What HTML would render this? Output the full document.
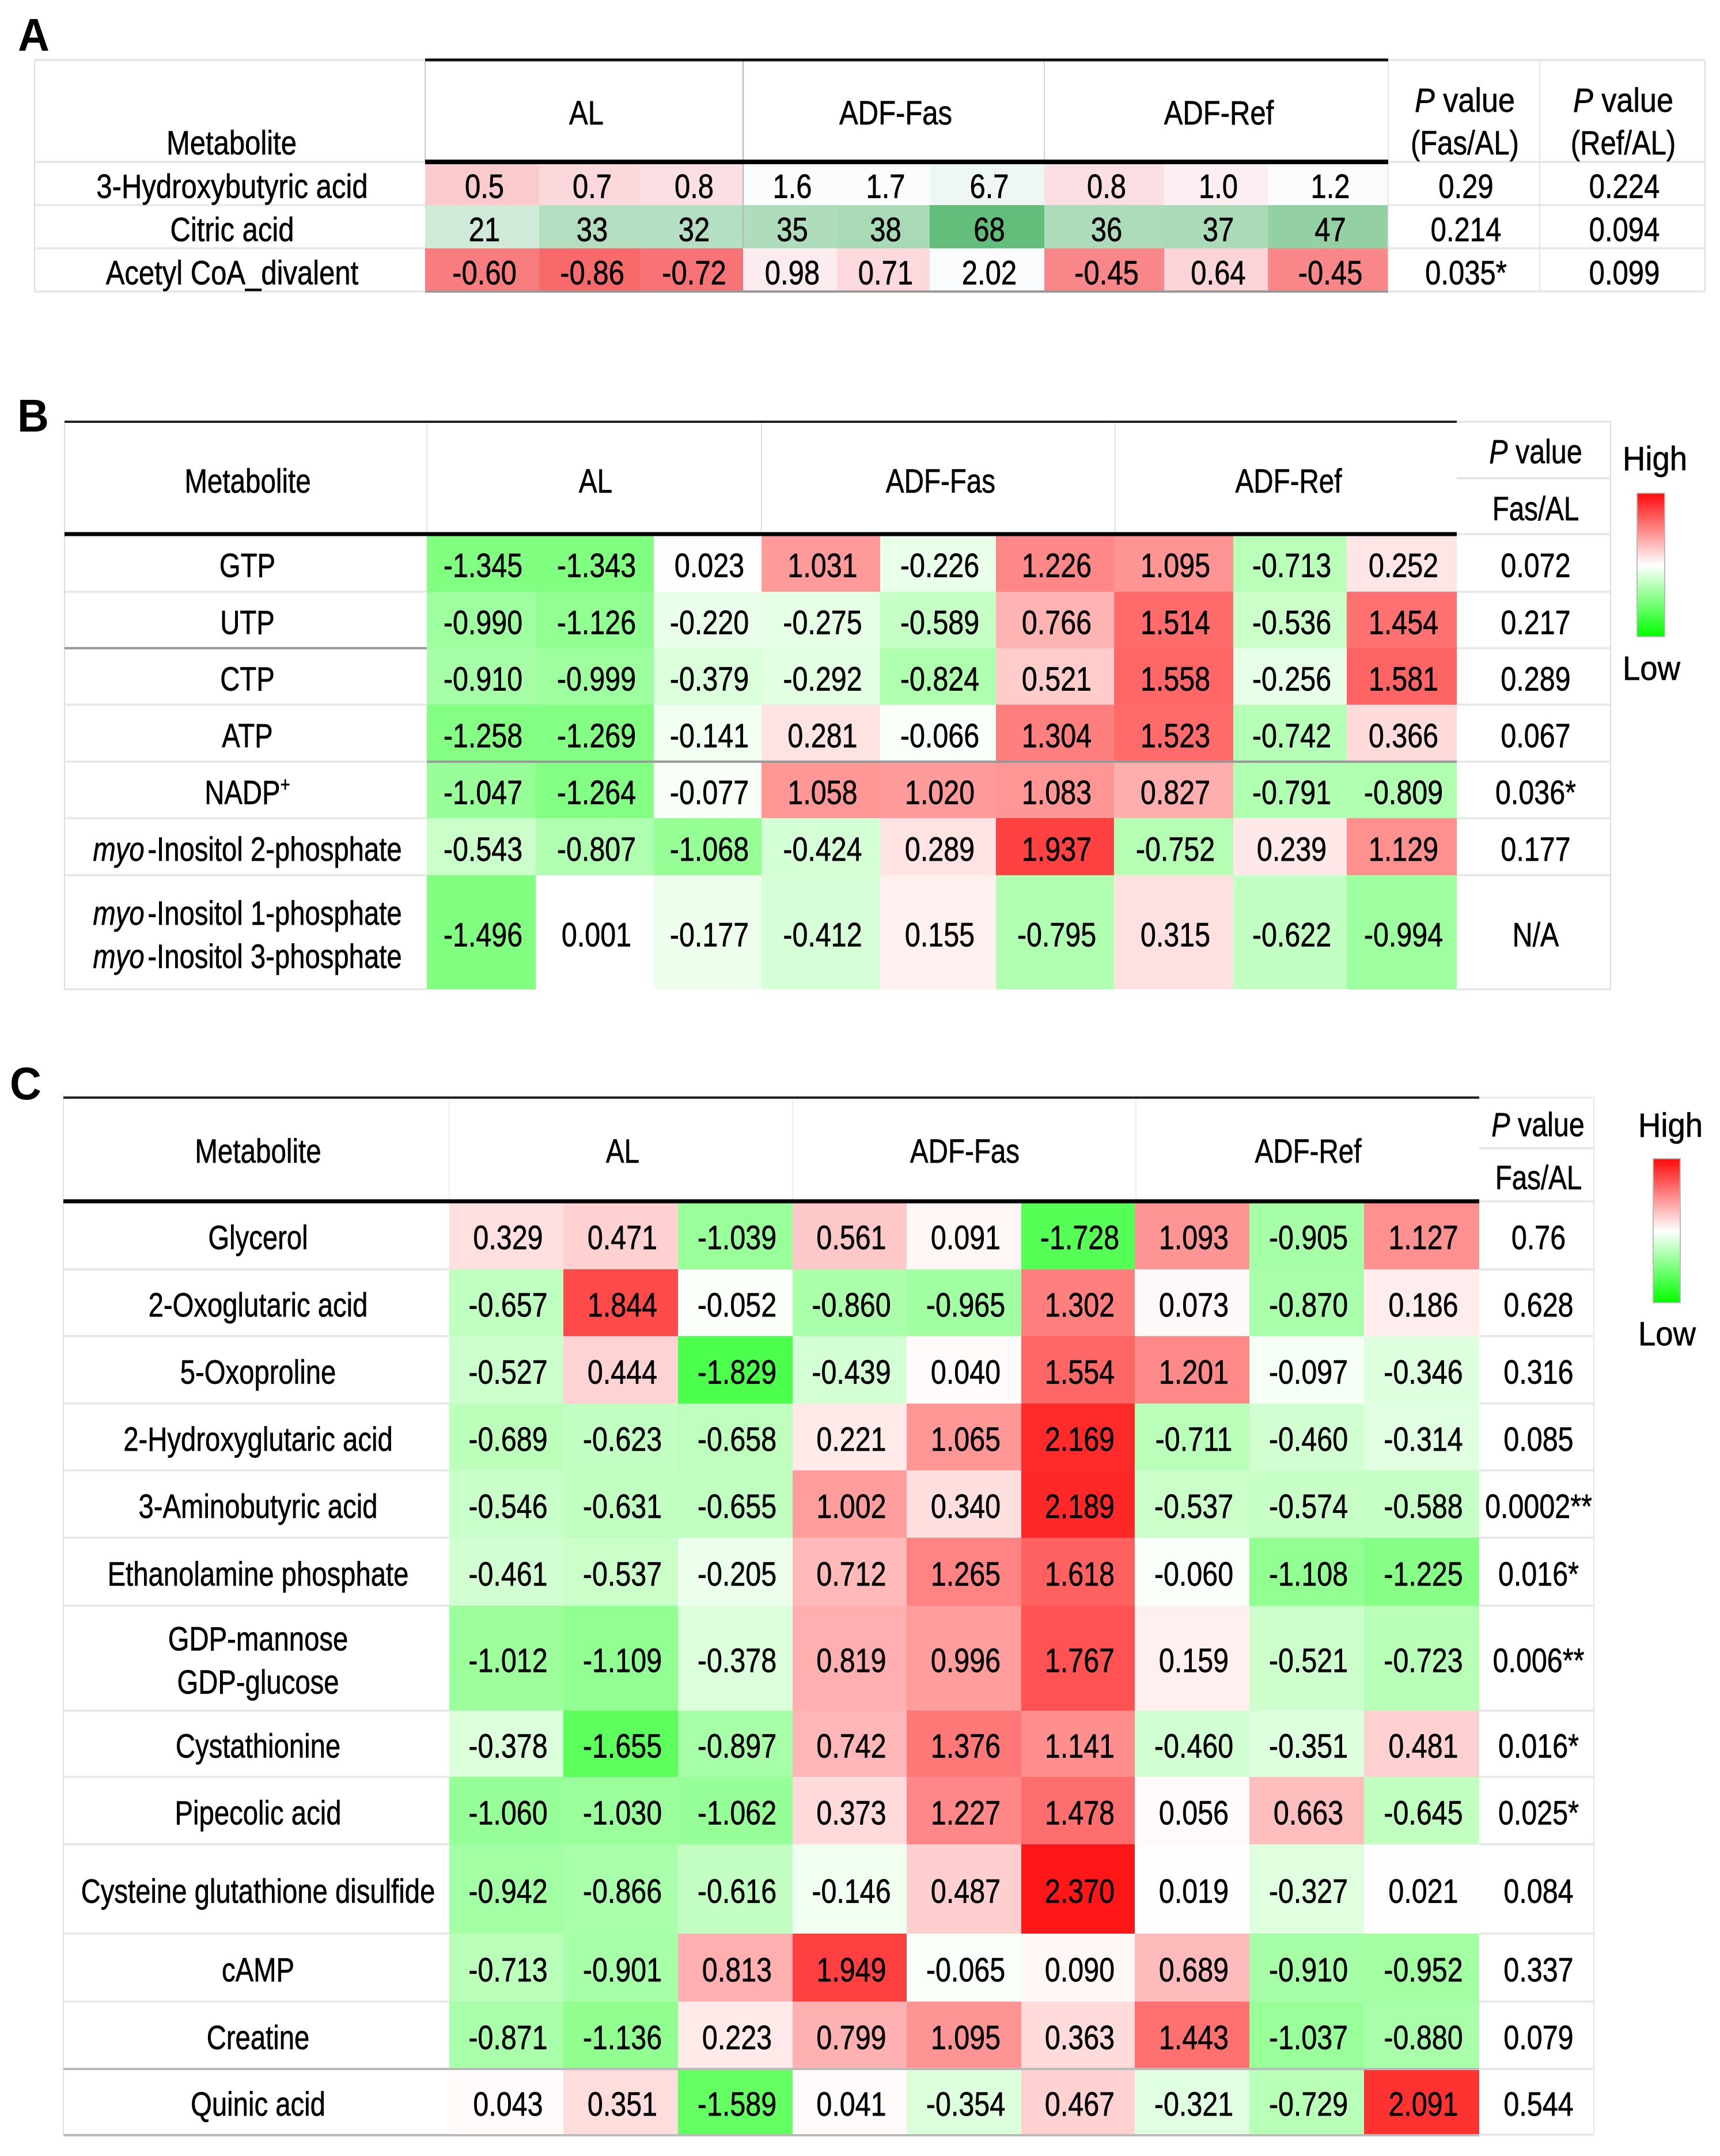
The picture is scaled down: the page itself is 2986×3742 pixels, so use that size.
<!DOCTYPE html>
<html lang="en">
<head>
<meta charset="utf-8">
<title>Metabolite heatmap tables</title>
<style>
html,body{margin:0;padding:0;background:#fff;}
svg{display:block;}
text{font-family:"Liberation Sans",Arial,sans-serif;font-size:58px;fill:#000;stroke:#000;stroke-width:0.7px;}
.pl{font-weight:bold;font-size:80px;stroke:none;}
</style>
</head>
<body>
<svg id="chart" xmlns="http://www.w3.org/2000/svg" width="2986" height="3742" viewBox="0 0 2986 3742">
  <defs>
    <linearGradient id="legend-grad" x1="0" y1="0" x2="0" y2="1">
      <stop offset="0" stop-color="#ff0a0a"/>
      <stop offset="0.5" stop-color="#ffffff"/>
      <stop offset="1" stop-color="#00ff00"/>
    </linearGradient>
  </defs>
  <rect x="0" y="0" width="2986" height="3742" fill="#ffffff"/>
  <g id="panels"></g>

  <text class="pl" transform="translate(31,88) scale(0.95,1)">A</text>
  <text class="pl" transform="translate(30,749) scale(0.95,1)">B</text>
  <text class="pl" transform="translate(17,1908) scale(0.95,1)">C</text>

  <g text-anchor="middle">
    <text transform="translate(402,268) scale(0.845,1)">Metabolite</text>
    <text transform="translate(1018,216) scale(0.845,1)">AL</text>
    <text transform="translate(1555,216) scale(0.845,1)">ADF-Fas</text>
    <text transform="translate(2116,216) scale(0.845,1)">ADF-Ref</text>
    <text transform="translate(2543,194) scale(0.9,1)"><tspan font-style="italic">P</tspan> value</text>
    <text transform="translate(2543,268) scale(0.845,1)">(Fas/AL)</text>
    <text transform="translate(2818,194) scale(0.9,1)"><tspan font-style="italic">P</tspan> value</text>
    <text transform="translate(2818,268) scale(0.845,1)">(Ref/AL)</text>
  </g>

  <g text-anchor="middle">
    <text transform="translate(430,855) scale(0.82,1)">Metabolite</text>
    <text transform="translate(1034,855) scale(0.82,1)">AL</text>
    <text transform="translate(1633,855) scale(0.82,1)">ADF-Fas</text>
    <text transform="translate(2237,855) scale(0.82,1)">ADF-Ref</text>
    <text transform="translate(2666,804) scale(0.835,1)"><tspan font-style="italic">P</tspan> value</text>
    <text transform="translate(2666,903) scale(0.82,1)">Fas/AL</text>
  </g>

  <g text-anchor="middle">
    <text transform="translate(448,2018) scale(0.82,1)">Metabolite</text>
    <text transform="translate(1081,2018) scale(0.82,1)">AL</text>
    <text transform="translate(1675,2018) scale(0.82,1)">ADF-Fas</text>
    <text transform="translate(2271,2018) scale(0.82,1)">ADF-Ref</text>
    <text transform="translate(2670,1972) scale(0.835,1)"><tspan font-style="italic">P</tspan> value</text>
    <text transform="translate(2671,2064) scale(0.82,1)">Fas/AL</text>
  </g>

  <g>
    <text transform="translate(2817,816) scale(0.94,1)">High</text>
    <rect x="2842" y="856" width="48" height="249" fill="url(#legend-grad)" stroke="#bbbbbb" stroke-width="2"/>
    <text transform="translate(2817,1180) scale(0.94,1)">Low</text>
  </g>
  <g>
    <text transform="translate(2844,1973) scale(0.94,1)">High</text>
    <rect x="2870" y="2011" width="47" height="250" fill="url(#legend-grad)" stroke="#bbbbbb" stroke-width="2"/>
    <text transform="translate(2844,2335) scale(0.94,1)">Low</text>
  </g>
</svg>

<script>
/* ---------- Panel A data ---------- */
const aMetabolites = ["3-Hydroxybutyric acid", "Citric acid", "Acetyl CoA_divalent"];
const aDecimals = [1, 0, 2];
const aHydroxybutyric = [0.5, 0.7, 0.8, 1.6, 1.7, 6.7, 0.8, 1.0, 1.2];
const aCitric = [21, 33, 32, 35, 38, 68, 36, 37, 47];
const aAcetylCoA = [-0.60, -0.86, -0.72, 0.98, 0.71, 2.02, -0.45, 0.64, -0.45];
const aPFas = ["0.29", "0.214", "0.035*"];
const aPRef = ["0.224", "0.094", "0.099"];

/* ---------- Panel B data ---------- */
const bMetabolites = ["GTP", "UTP", "CTP", "ATP", "NADP+", "myo-Inositol 2-phosphate", "myo-Inositol 1-phosphate\nmyo-Inositol 3-phosphate"];
const bGTP = [-1.345, -1.343, 0.023, 1.031, -0.226, 1.226, 1.095, -0.713, 0.252];
const bUTP = [-0.990, -1.126, -0.220, -0.275, -0.589, 0.766, 1.514, -0.536, 1.454];
const bCTP = [-0.910, -0.999, -0.379, -0.292, -0.824, 0.521, 1.558, -0.256, 1.581];
const bATP = [-1.258, -1.269, -0.141, 0.281, -0.066, 1.304, 1.523, -0.742, 0.366];
const bNADP = [-1.047, -1.264, -0.077, 1.058, 1.020, 1.083, 0.827, -0.791, -0.809];
const bInositol2 = [-0.543, -0.807, -1.068, -0.424, 0.289, 1.937, -0.752, 0.239, 1.129];
const bInositol13 = [-1.496, 0.001, -0.177, -0.412, 0.155, -0.795, 0.315, -0.622, -0.994];
const bPFas = ["0.072", "0.217", "0.289", "0.067", "0.036*", "0.177", "N/A"];

/* ---------- Panel C data ---------- */
const cMetabolites = ["Glycerol", "2-Oxoglutaric acid", "5-Oxoproline", "2-Hydroxyglutaric acid", "3-Aminobutyric acid", "Ethanolamine phosphate", "GDP-mannose\nGDP-glucose", "Cystathionine", "Pipecolic acid", "Cysteine glutathione disulfide", "cAMP", "Creatine", "Quinic acid"];
const cGlycerol = [0.329, 0.471, -1.039, 0.561, 0.091, -1.728, 1.093, -0.905, 1.127];
const cOxoglutaric = [-0.657, 1.844, -0.052, -0.860, -0.965, 1.302, 0.073, -0.870, 0.186];
const cOxoproline = [-0.527, 0.444, -1.829, -0.439, 0.040, 1.554, 1.201, -0.097, -0.346];
const cHydroxyglutaric = [-0.689, -0.623, -0.658, 0.221, 1.065, 2.169, -0.711, -0.460, -0.314];
const cAminobutyric = [-0.546, -0.631, -0.655, 1.002, 0.340, 2.189, -0.537, -0.574, -0.588];
const cEthanolamine = [-0.461, -0.537, -0.205, 0.712, 1.265, 1.618, -0.060, -1.108, -1.225];
const cGDP = [-1.012, -1.109, -0.378, 0.819, 0.996, 1.767, 0.159, -0.521, -0.723];
const cCystathionine = [-0.378, -1.655, -0.897, 0.742, 1.376, 1.141, -0.460, -0.351, 0.481];
const cPipecolic = [-1.060, -1.030, -1.062, 0.373, 1.227, 1.478, 0.056, 0.663, -0.645];
const cCysteineGSH = [-0.942, -0.866, -0.616, -0.146, 0.487, 2.370, 0.019, -0.327, 0.021];
const cCAMP = [-0.713, -0.901, 0.813, 1.949, -0.065, 0.090, 0.689, -0.910, -0.952];
const cCreatine = [-0.871, -1.136, 0.223, 0.799, 1.095, 0.363, 1.443, -1.037, -0.880];
const cQuinic = [0.043, 0.351, -1.589, 0.041, -0.354, 0.467, -0.321, -0.729, 2.091];
const cPFas = ["0.76", "0.628", "0.316", "0.085", "0.0002**", "0.016*", "0.006**", "0.016*", "0.025*", "0.084", "0.337", "0.079", "0.544"];

const SVGNS = "http://www.w3.org/2000/svg";
const root = document.getElementById("panels");

/* colour scales */
function heatColor(v) {
  const t = Math.min(1, Math.abs(v) / 2.6);
  const c = Math.round(255 * (1 - t));
  return v >= 0 ? "rgb(255," + c + "," + c + ")" : "rgb(" + c + ",255," + c + ")";
}
function heatColorB(v) {
  const t = v < 0 ? Math.min(0.5, Math.abs(v) / 2.6) : Math.min(1, v / 2.6);
  const c = Math.round(255 * (1 - t));
  return v >= 0 ? "rgb(255," + c + "," + c + ")" : "rgb(" + c + ",255," + c + ")";
}
function excelColor(v) {
  const mid = 1.2, lo = -0.86, hi = 68;
  const white = [252, 252, 255], red = [248, 105, 107], green = [99, 190, 123];
  const target = v < mid ? red : green;
  const t = v < mid ? Math.min(1, (mid - v) / (mid - lo)) : Math.min(1, (v - mid) / (hi - mid));
  const ch = white.map(function (w, i) { return Math.round(w + (target[i] - w) * t); });
  return "rgb(" + ch.join(",") + ")";
}

function addRect(parent, name, x, y, w, h, fill) {
  const el = document.createElementNS(SVGNS, "rect");
  
  
  el.setAttribute("x", x);
  el.setAttribute("y", y);
  el.setAttribute("width", w);
  el.setAttribute("height", h);
  el.setAttribute("fill", fill);
  parent.appendChild(el);
  return el;
}

function addLabel(parent, name, str, x, y, sx) {
  const el = document.createElementNS(SVGNS, "text");
  
  
  el.setAttribute("text-anchor", "middle");
  el.setAttribute("transform", "translate(" + x + "," + y + ") scale(" + sx + ",1)");
  if (str.indexOf("myo") === 0) {
    const it = document.createElementNS(SVGNS, "tspan");
    it.setAttribute("font-style", "italic");
    it.textContent = "myo";
    el.appendChild(it);
    const rest = document.createElementNS(SVGNS, "tspan");
    rest.setAttribute("dx", "7");
    rest.textContent = str.slice(3);
    el.appendChild(rest);
  } else if (str === "NADP+") {
    el.appendChild(document.createTextNode("NADP"));
    const sup = document.createElementNS(SVGNS, "tspan");
    sup.setAttribute("dy", "-22");
    sup.setAttribute("font-size", "36");
    sup.textContent = "+";
    el.appendChild(sup);
  } else {
    el.textContent = str;
  }
  parent.appendChild(el);
  return el;
}

function drawPanel(cfg) {
  const g = document.createElementNS(SVGNS, "g");
  
  
  root.appendChild(g);
  const x = cfg.colEdges, y = cfg.rowEdges, sx = cfg.sx;
  const bx = function (c) { return (x[c] + x[c + 1]) / 2; };
  const by = function (r) { return (y[r] + y[r + 1]) / 2; };

  /* cells */
  cfg.rows.forEach(function (row, r) {
    row.forEach(function (v, c) {
      addRect(g, cfg.id + "-cell", x[c], y[r], x[c + 1] - x[c], y[r + 1] - y[r], cfg.color(v));
    });
  });

  /* grid lines */
  const firstCol = x[0], lastCol = x[9];
  y.forEach(function (yy, i) {
    addRect(g, cfg.id + "-row-line", cfg.left, yy - 2, firstCol - cfg.left, 4, "#e9e9e9");
    addRect(g, cfg.id + "-row-line", lastCol, yy - 2, cfg.right - lastCol, 4, "#e9e9e9");
  });
  cfg.vLines.forEach(function (v) {
    addRect(g, cfg.id + "-column-line", v[0] - 1, v[1], 2, v[2] - v[1], v[3]);
  });
  cfg.hRules.forEach(function (h) {
    addRect(g, cfg.id + "-rule", h[0], h[1] - h[3] / 2, h[2] - h[0], h[3], h[4]);
  });

  /* values */
  cfg.rows.forEach(function (row, r) {
    row.forEach(function (v, c) {
      const d = cfg.decimals ? cfg.decimals[r] : 3;
      addLabel(g, cfg.id + "-cell-value", v.toFixed(d), bx(c) + cfg.shift, by(r) + cfg.base, sx);
    });
  });

  /* metabolite labels */
  cfg.labels.forEach(function (lab, r) {
    const lines = lab.split("\n");
    lines.forEach(function (line, i) {
      const off = (i - (lines.length - 1) / 2) * cfg.lineGap;
      addLabel(g, cfg.id + "-metabolite-label", line, (cfg.left + firstCol) / 2 + cfg.shift, by(r) + cfg.base + off, cfg.labelSx);
    });
  });

  /* P values */
  cfg.pCols.forEach(function (col) {
    col.values.forEach(function (p, r) {
      addLabel(g, cfg.id + "-p-value", p, col.x, by(r) + cfg.base, sx);
    });
  });
}

drawPanel({
  id: "panel-a",
  rows: [aHydroxybutyric, aCitric, aAcetylCoA],
  labels: aMetabolites,
  decimals: aDecimals,
  color: excelColor,
  colEdges: [738, 936, 1112, 1290, 1453, 1614, 1813, 2021, 2201, 2410],
  rowEdges: [281, 356, 431, 506],
  left: 60, right: 2960, sx: 0.845, labelSx: 0.845, shift: 4, base: 25, lineGap: 75,
  pCols: [{ x: 2545, values: aPFas }, { x: 2820, values: aPRef }],
  vLines: [
    [60, 104, 506, "#dddddd"], [738, 104, 281, "#c8c8c8"], [1290, 104, 431, "#b5b5b5"],
    [1813, 104, 281, "#d4d4d4"], [2410, 104, 506, "#e6e6e6"], [2673, 104, 506, "#e2e2e2"], [2960, 104, 506, "#dddddd"]
  ],
  hRules: [
    [60, 104, 738, 4, "#e6e6e6"], [2410, 104, 2960, 4, "#e6e6e6"],
    [738, 104, 2410, 5, "#111111"], [738, 281, 2410, 8, "#000000"],
    [738, 506, 2410, 4, "#999999"]
  ]
});

drawPanel({
  id: "panel-b",
  rows: [bGTP, bUTP, bCTP, bATP, bNADP, bInositol2, bInositol13],
  labels: bMetabolites,
  color: heatColorB,
  colEdges: [741, 930, 1135, 1322, 1528, 1729, 1934, 2141, 2338, 2529],
  rowEdges: [927, 1027, 1125, 1223, 1322, 1420, 1519, 1717],
  left: 112, right: 2796, sx: 0.835, labelSx: 0.815, shift: 3, base: 24.5, lineGap: 75,
  pCols: [{ x: 2666, values: bPFas }],
  vLines: [
    [112, 732, 1717, "#dddddd"], [741, 732, 927, "#e2e2e2"], [1322, 732, 927, "#e2e2e2"],
    [1936, 732, 927, "#e2e2e2"], [2796, 732, 1717, "#dddddd"]
  ],
  hRules: [
    [112, 732, 2529, 4, "#222222"], [2529, 732, 2796, 4, "#e6e6e6"], [2529, 830, 2796, 4, "#e6e6e6"],
    [112, 927, 2529, 7, "#000000"], [112, 1125, 741, 4, "#999999"], [741, 1322, 2529, 4, "#999999"]
  ]
});

drawPanel({
  id: "panel-c",
  rows: [cGlycerol, cOxoglutaric, cOxoproline, cHydroxyglutaric, cAminobutyric, cEthanolamine, cGDP, cCystathionine, cPipecolic, cCysteineGSH, cCAMP, cCreatine, cQuinic],
  labels: cMetabolites,
  color: heatColor,
  colEdges: [780, 978, 1177, 1376, 1574, 1773, 1970, 2169, 2368, 2568],
  rowEdges: [2085, 2203, 2319, 2436, 2552, 2669, 2787, 2969, 3084, 3201, 3356, 3474, 3591, 3705],
  left: 110, right: 2767, sx: 0.835, labelSx: 0.815, shift: 3, base: 24, lineGap: 75,
  pCols: [{ x: 2671, values: cPFas }],
  vLines: [
    [110, 1905, 3705, "#e2e2e2"], [780, 1905, 2085, "#ececec"], [1376, 1905, 2085, "#ececec"],
    [1972, 1905, 2085, "#ececec"], [2767, 1905, 3705, "#e6e6e6"]
  ],
  hRules: [
    [110, 1905, 2568, 4, "#222222"], [2568, 1905, 2767, 3, "#e9e9e9"], [2568, 1993, 2767, 4, "#e9e9e9"],
    [110, 2085, 2568, 7, "#000000"], [110, 3591, 2568, 4, "#bbbbbb"], [110, 3706, 2568, 4, "#bbbbbb"]
  ]
});
</script>
</body>
</html>
